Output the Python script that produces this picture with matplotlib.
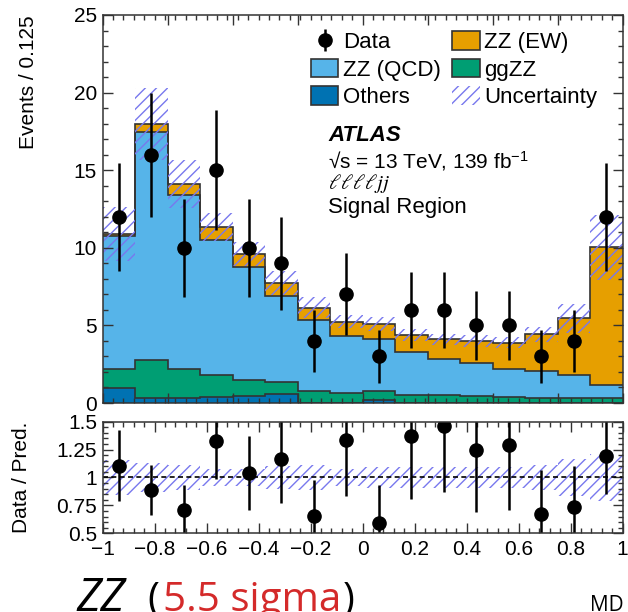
import numpy as np
import matplotlib
matplotlib.use("Agg")
import matplotlib.pyplot as plt
from matplotlib.patches import Patch
from matplotlib.ticker import MultipleLocator

# binning: 16 bins from -1 to 1
edges = np.linspace(-1, 1, 17)

# observed events per bin
data = [12, 16, 10, 15, 10, 9, 4, 7, 3, 6, 6, 5, 5, 3, 4, 12]

# predicted components per bin
others = [0.95, 0.30, 0.30, 0.40, 0.45, 0.55, 0.0, 0.0, 0.20, 0.0, 0.0, 0.0, 0.0, 0.0, 0.0, 0.0]
ggzz = [1.22, 2.47, 1.91, 1.40, 1.03, 0.80, 0.77, 0.66, 0.57, 0.52, 0.50, 0.42, 0.40, 0.34, 0.34, 0.34]
zz_qcd = [8.59, 14.67, 11.19, 8.70, 7.26, 5.54, 4.58, 3.66, 3.33, 2.79, 2.34, 2.14, 1.76, 1.74, 1.46, 0.82]
zz_ew = [0.11, 0.52, 0.69, 0.82, 0.86, 0.86, 0.78, 0.91, 0.99, 1.07, 1.26, 1.44, 1.72, 2.35, 3.66, 8.87]

# relative uncertainty of the prediction
unc_rel = [0.16, 0.13, 0.11, 0.08, 0.08, 0.10, 0.11, 0.08, 0.09, 0.09, 0.09, 0.09, 0.09, 0.11, 0.17, 0.21]

colors = ["#0072B2", "#009E73", "#56B4E9", "#E69F00"]
hatch_col = "#7878EE"
line_col = "#333333"

plt.rcParams["font.family"] = ["Liberation Sans", "DejaVu Sans"]
plt.rcParams["mathtext.fontset"] = "custom"
plt.rcParams["mathtext.rm"] = "Liberation Sans"
plt.rcParams["mathtext.it"] = "Liberation Sans:italic"
plt.rcParams["hatch.linewidth"] = 1.0
plt.rcParams["axes.linewidth"] = 1.1
plt.rcParams["axes.edgecolor"] = line_col

fig = plt.figure(figsize=(6.28, 6.12), dpi=100)
ax = fig.add_axes([0.1635, 0.3415, 0.828, 0.634])
rax = fig.add_axes([0.1635, 0.1286, 0.828, 0.1824])

# stacked histogram
stack = np.zeros(16)
for vals, col in zip([others, ggzz, zz_qcd, zz_ew], colors):
    top = stack + np.array(vals)
    ax.stairs(top, edges, baseline=stack.copy(), fill=True, color=col, lw=0)
    stack = top
cum = np.zeros(16)
for vals in [others, ggzz, zz_qcd, zz_ew]:
    cum = cum + np.array(vals)
    ax.stairs(cum, edges, baseline=None, color=line_col, lw=1.2)
total = stack

unc = total * np.array(unc_rel)
ax.stairs(total + unc, edges, baseline=total - unc, fill=True, facecolor="none",
          edgecolor=hatch_col, hatch="///", lw=0)

centers = 0.5 * (edges[1:] + edges[:-1])
d = np.array(data, dtype=float)
eb = ax.errorbar(centers, d, yerr=np.sqrt(d), fmt="o", color="black", ms=9.5,
                 elinewidth=1.8, capsize=0)

ax.set_xlim(-1, 1)
ax.set_ylim(0, 25)
ax.set_ylabel("Events / 0.125", fontsize=15, loc="top")
ax.yaxis.set_label_coords(-0.125, 1.0)
ax.tick_params(labelbottom=False)

# legend
handles = [eb,
           Patch(facecolor=colors[2], edgecolor=line_col, lw=1.2),
           Patch(facecolor=colors[0], edgecolor=line_col, lw=1.2),
           Patch(facecolor=colors[3], edgecolor=line_col, lw=1.2),
           Patch(facecolor=colors[1], edgecolor=line_col, lw=1.2),
           Patch(facecolor="none", edgecolor=hatch_col, hatch="///", lw=0)]
names = ["Data", "ZZ (QCD)", "Others", "ZZ (EW)", "ggZZ", "Uncertainty"]
ax.legend(handles, names, ncol=2, loc="upper left", bbox_to_anchor=(0.40, 0.958),
          frameon=False, fontsize=16, handlelength=1.25, handleheight=0.9,
          handletextpad=0.2, columnspacing=0.5, labelspacing=0.25,
          borderpad=0, borderaxespad=0)

ax.text(0.434, 0.689, "ATLAS", transform=ax.transAxes, fontsize=16,
        fontweight="bold", style="italic", va="center")
ax.text(0.434, 0.624, "√s = 13 TeV, 139 fb$^{-1}$", transform=ax.transAxes,
        fontsize=15, va="center")
ax.text(0.434, 0.565, r"$\ell\ell\ell\ell jj$", transform=ax.transAxes,
        fontsize=15, va="center", math_fontfamily="stix")
ax.text(0.434, 0.503, "Signal Region", transform=ax.transAxes, fontsize=16,
        va="center")

# ratio panel
ratio = d / total
rerr = np.sqrt(d) / total
rax.stairs(1 + np.array(unc_rel), edges, baseline=1 - np.array(unc_rel), fill=True,
           facecolor="none", edgecolor=hatch_col, hatch="///", lw=0)
rax.axhline(1, color="black", ls="--", lw=1.2, dashes=(3, 2))
rax.errorbar(centers, ratio, yerr=rerr, fmt="o", color="black", ms=9.5,
             elinewidth=1.8, capsize=0)
rax.set_xlim(-1, 1)
rax.set_ylim(0.5, 1.5)
rax.set_yticks([0.5, 0.75, 1, 1.25, 1.5])
rax.set_yticklabels(["0.5", "0.75", "1", "1.25", "1.5"])
rax.set_ylabel("Data / Pred.", fontsize=15)
rax.yaxis.set_label_coords(-0.138, 0.5)
rax.set_xticks([-1, -0.8, -0.6, -0.4, -0.2, 0, 0.2, 0.4, 0.6, 0.8, 1])
rax.set_xticklabels(["\u22121", "\u22120.8", "\u22120.6", "\u22120.4", "\u22120.2", "0",
                     "0.2", "0.4", "0.6", "0.8", "1"])

for a in (ax, rax):
    a.xaxis.set_minor_locator(MultipleLocator(0.04))
    a.tick_params(which="both", direction="in", top=True, right=True,
                  labelsize=15, color=line_col)
    a.tick_params(which="major", length=7, width=1)
    a.tick_params(which="minor", length=3.5, width=1)
ax.yaxis.set_major_locator(MultipleLocator(5))
ax.yaxis.set_minor_locator(MultipleLocator(1))
rax.yaxis.set_minor_locator(MultipleLocator(0.05))
rax.tick_params(axis="x", pad=5)
ax.tick_params(axis="y", pad=4)
rax.tick_params(axis="y", pad=4)

# slide caption under the plot
fs = 29
yb = 0.001
fig.text(76 / 628, yb, "ZZ", fontsize=33, family="Open Sans", style="italic",
         va="baseline", color="black")
fig.text(147 / 628, yb, "(", fontsize=fs, family="Open Sans", va="baseline",
         color="black")
fig.text(163 / 628, yb, "5.5 sigma", fontsize=fs, family="Open Sans",
         va="baseline", color="#D42A2A")
fig.text(343 / 628, yb, ")", fontsize=fs, family="Open Sans", va="baseline",
         color="black")
fig.text(624 / 628, 0.001, "MD", fontsize=15, family="Open Sans", va="baseline",
         ha="right", color="black")

fig.savefig("out.png", dpi=100)
